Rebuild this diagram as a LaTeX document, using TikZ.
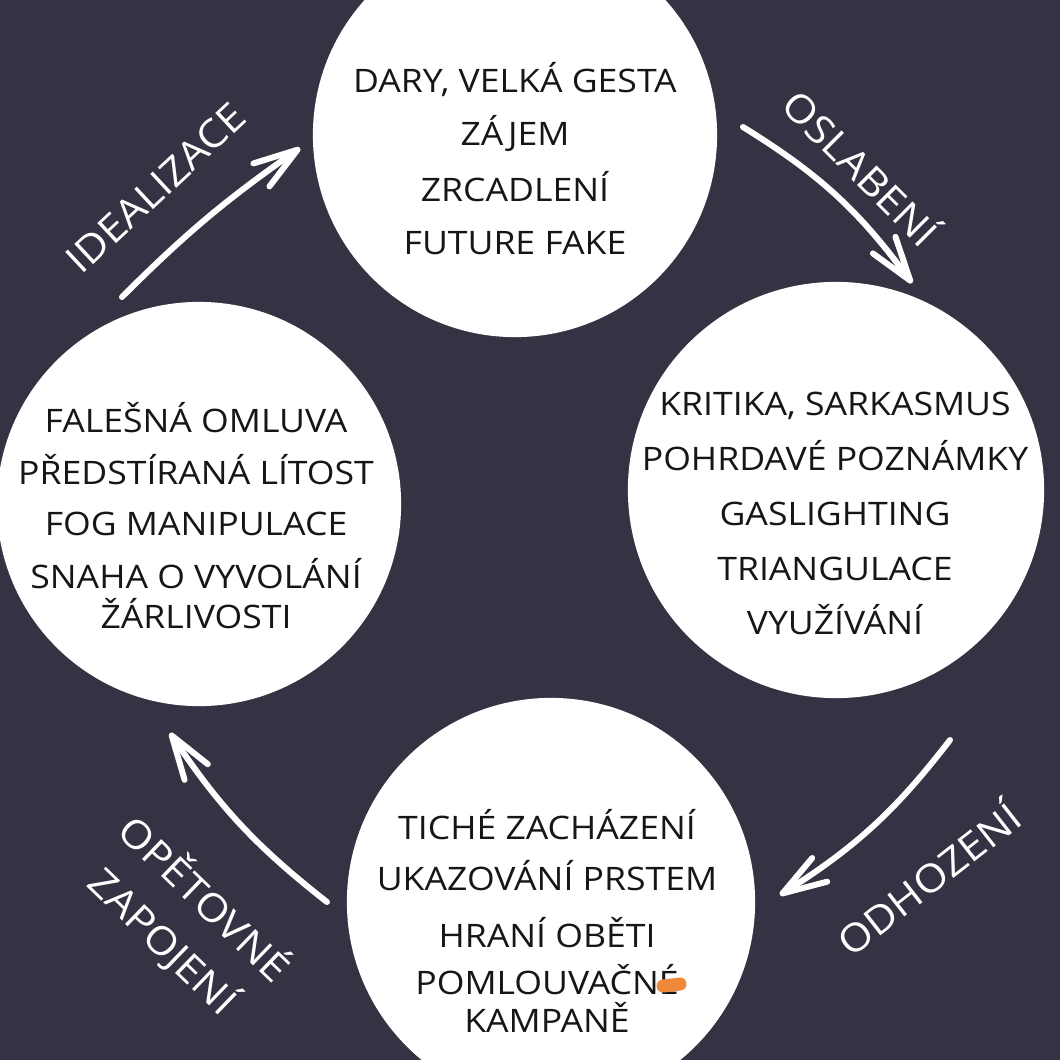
\documentclass[tikz,border=0pt]{standalone}
\usepackage{fontspec}
\setmainfont{Open Sans}[FakeStretch=1.1]
\usetikzlibrary{arrows.meta}
\definecolor{bgnavy}{RGB}{53,51,67}
\definecolor{inkdark}{RGB}{22,22,22}
\definecolor{blobcol}{RGB}{240,136,58}
\tikzset{
    phase/.style={
        circle,
        fill=white,
        inner sep=0pt
    },
    lineitem/.style={
        anchor=base,
        text=inkdark,
        inner sep=0pt,
        font=\fontsize{9.2}{11}\selectfont
    },
    phaselabel/.style={
        text=white,
        inner sep=0pt,
        align=center,
        font=\fontsize{11}{16.8}\selectfont
    },
    cyclearrow/.style={
        draw=white,
        line width=1.7pt,
        line cap=round,
        -{Straight Barb[length=4.4mm, width=2.8mm, round]}
    }
}
\begin{document}
\begin{tikzpicture}[x=0.01cm, y=-0.01cm]
  \useasboundingbox (0,0) rectangle (1060,1060);
  \fill[bgnavy] (0,0) rectangle (1060,1060);

  \node[phase, minimum size=4.04cm] (c1) at (515,135) {};
  \node[phase, minimum size=4.16cm] (c2) at (836,490) {};
  \node[phase, minimum size=4.08cm] (c3) at (551,902) {};
  \node[phase, minimum size=4.04cm] (c4) at (199,504) {};

  \node[lineitem] (t11) at (515,92) {DARY, VELKÁ GESTA};
  \node[lineitem] (t12) at (515,145) {ZÁJEM};
  \node[lineitem] (t13) at (515,201) {ZRCADLENÍ};
  \node[lineitem] (t14) at (515,254) {FUTURE FAKE};

  \node[lineitem] (t21) at (835,415) {KRITIKA, SARKASMUS};
  \node[lineitem] (t22) at (835,470) {POHRDAVÉ POZNÁMKY};
  \node[lineitem] (t23) at (835,525) {GASLIGHTING};
  \node[lineitem] (t24) at (835,580) {TRIANGULACE};
  \node[lineitem] (t25) at (835,634) {VYUŽÍVÁNÍ};

  \node[lineitem] (t31) at (547,839) {TICHÉ ZACHÁZENÍ};
  \node[lineitem] (t32) at (547,890) {UKAZOVÁNÍ PRSTEM};
  \node[lineitem] (t33) at (547,947) {HRANÍ OBĚTI};
  \node[lineitem] (t34) at (547,994) {POMLOUVAČNÉ};
  \node[lineitem] (t35) at (547,1032) {KAMPANĚ};

  \node[lineitem] (t41) at (196,432) {FALEŠNÁ OMLUVA};
  \node[lineitem] (t42) at (196,484) {PŘEDSTÍRANÁ LÍTOST};
  \node[lineitem] (t43) at (196,535) {FOG MANIPULACE};
  \node[lineitem] (t44) at (196,588) {SNAHA O VYVOLÁNÍ};
  \node[lineitem] (t45) at (196,628) {ŽÁRLIVOSTI};

  \draw[blobcol, line width=0.13cm, line cap=round] (663,986) -- (680,984);

  \coordinate (a1s) at (122,297);
  \coordinate (a1e) at (300,148);
  \coordinate (a2s) at (743,127);
  \coordinate (a2e) at (912,283);
  \coordinate (a3s) at (950,740);
  \coordinate (a3e) at (780,895);
  \coordinate (a4s) at (327,902);
  \coordinate (a4e) at (170,733);

  \draw[cyclearrow] (a1s) to[bend left=5] (a1e);
  \draw[cyclearrow] (a2s) to[bend left=11] (a2e);
  \draw[cyclearrow] (a3s) to[bend left=10] (a3e);
  \draw[cyclearrow] (a4s) to[bend left=9] (a4e);

  \node[phaselabel, rotate=43] (l1) at (156,188) {IDEALIZACE};
  \node[phaselabel, rotate=-45] (l2) at (863,166) {OSLABENÍ};
  \node[phaselabel, rotate=38] (l3) at (927,877) {ODHOZENÍ};
  \node[phaselabel, rotate=-44] (l4) at (184,920) {OPĚTOVNÉ\\ZAPOJENÍ};
\end{tikzpicture}
\end{document}
